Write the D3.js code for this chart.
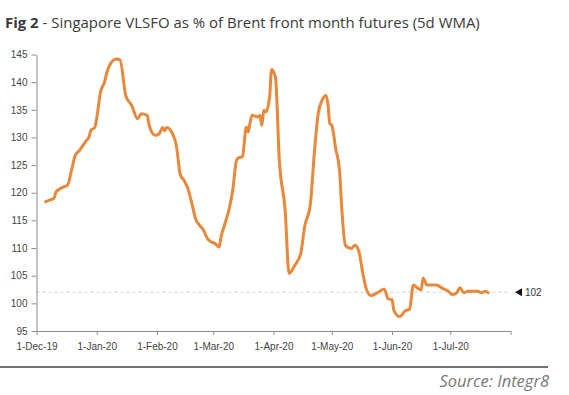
<!DOCTYPE html>
<html><head><meta charset="utf-8">
<script src="https://cdn.jsdelivr.net/npm/d3@7"></script>
<style>body{margin:0;background:#fff}svg{display:block}</style>
</head><body>
<svg id="c" width="569" height="395"></svg>
<script>
const dates = ["2019-12-05","2019-12-08","2019-12-10","2019-12-11","2019-12-14","2019-12-17","2019-12-19","2019-12-21","2019-12-23","2019-12-25","2019-12-27","2019-12-28","2019-12-29","2019-12-31",
"2020-01-01","2020-01-03","2020-01-05","2020-01-06","2020-01-09","2020-01-11","2020-01-13","2020-01-16","2020-01-19","2020-01-22","2020-01-24","2020-01-27","2020-01-28","2020-01-31",
"2020-02-02","2020-02-04","2020-02-05","2020-02-06","2020-02-09","2020-02-11","2020-02-13","2020-02-15","2020-02-17","2020-02-19","2020-02-21","2020-02-23","2020-02-25","2020-02-27","2020-02-29",
"2020-03-02","2020-03-04","2020-03-05","2020-03-07","2020-03-09","2020-03-11","2020-03-13","2020-03-14","2020-03-16","2020-03-18","2020-03-19","2020-03-20","2020-03-21","2020-03-24","2020-03-25","2020-03-26","2020-03-27","2020-03-28","2020-03-30","2020-03-31",
"2020-04-02","2020-04-04","2020-04-07","2020-04-09","2020-04-12","2020-04-15","2020-04-17","2020-04-20","2020-04-22","2020-04-24","2020-04-26","2020-04-28","2020-04-29","2020-04-30",
"2020-05-01","2020-05-03","2020-05-05","2020-05-06","2020-05-08","2020-05-11","2020-05-13","2020-05-15","2020-05-17","2020-05-18","2020-05-21","2020-05-24","2020-05-28","2020-05-30",
"2020-06-01","2020-06-02","2020-06-05","2020-06-08","2020-06-10","2020-06-12","2020-06-14","2020-06-16","2020-06-17","2020-06-19","2020-06-22","2020-06-24","2020-06-27","2020-06-30",
"2020-07-02","2020-07-04","2020-07-06","2020-07-08","2020-07-10","2020-07-12","2020-07-15","2020-07-17","2020-07-19","2020-07-21"];
const values = [118.3,118.7,119.0,120.1,120.9,121.4,124.0,126.8,127.6,128.6,129.6,130.0,131.3,131.8,
133.5,138.3,140.0,141.5,143.8,144.2,144.0,137.5,135.8,133.4,134.3,134.0,132.2,130.4,
130.6,131.8,131.2,131.8,130.7,128.5,123.3,122.2,120.7,118.0,115.2,114.1,113.2,111.7,111.1,
110.8,110.2,112.0,114.4,116.8,120.4,125.9,126.3,126.5,131.9,131.0,132.8,134.0,133.7,134.0,132.2,134.9,134.6,137.3,142.3,
140.9,125.9,116.8,105.4,106.9,109.0,113.8,118.0,127.1,134.3,136.7,137.6,136.1,132.5,
132.2,128.0,124.0,118.0,110.5,109.9,110.5,109.3,105.4,103.6,101.4,101.8,102.6,100.8,
100.7,98.7,97.6,98.7,98.9,103.3,102.8,102.4,104.6,103.3,103.3,103.3,102.7,102.2,
101.6,101.8,102.8,101.9,102.2,102.2,102.2,101.9,102.2,101.8];
const yTicks = [95,100,105,110,115,120,125,130,135,140,145];
const monthTicks = ["2019-12-01","2020-01-01","2020-02-01","2020-03-01","2020-04-01","2020-05-01","2020-06-01","2020-07-01","2020-08-01"];
const refValue = 102;
const titleBold = "Fig 2";
const titleRest = " - Singapore VLSFO as % of Brent front month futures (5d WMA)";
const sourceText = "Source: Integr8";

const parse = d3.timeParse("%Y-%m-%d");
const data = dates.map((d,i)=>({date:parse(d), v:values[i]}));
const mTicks = monthTicks.map(parse);

const svg = d3.select("#c");
const x = d3.scaleTime().domain([mTicks[0], mTicks[mTicks.length-1]]).range([36.5, 510.5]);
const y = d3.scaleLinear().domain([95,145]).range([331, 54.5]);

// title
const title = svg.append("text").attr("x",5).attr("y",28)
  .style("font-family","'Open Sans', sans-serif").style("font-size","16px").attr("fill","#3a3a3a");
title.append("tspan").text(titleBold).style("font-weight","700");
title.append("tspan").text(titleRest);
const tw = title.node().getComputedTextLength();
title.style("font-size", (16*475/tw)+"px");

// reference dashed line
svg.append("line").attr("x1",x.range()[0]).attr("x2",x.range()[1])
  .attr("y1",y(refValue)).attr("y2",y(refValue))
  .attr("stroke","#d0d0d0").attr("stroke-width",1).attr("stroke-dasharray","3,3");

// axes
const fmt = d3.timeFormat("%-d-%b-%y");
const xAxis = d3.axisBottom(x).tickValues(mTicks).tickSize(4).tickSizeOuter(0)
  .tickFormat((d,i)=> i < mTicks.length-1 ? fmt(d) : "");
const gx = svg.append("g").attr("transform",`translate(0,${y(95)})`).call(xAxis);
const yAxis = d3.axisLeft(y).tickValues(yTicks).tickSize(5).tickSizeOuter(0).tickPadding(4);
const gy = svg.append("g").attr("transform",`translate(${x.range()[0]},0)`).call(yAxis);
[gx,gy].forEach(g=>{
  g.selectAll("path,line").attr("stroke","#8c8c8c");
  g.selectAll("text").attr("fill","#444").style("font-family","'Liberation Sans', Arial, sans-serif").style("font-size","10px");
});
gx.selectAll("text").attr("dy","1.2em");

// line
const line = d3.line().x(d=>x(d.date)).y(d=>y(d.v)).curve(d3.curveMonotoneX);
svg.append("path").datum(data).attr("d",line).attr("fill","none")
  .attr("stroke","#E8883A").attr("stroke-width",3).attr("stroke-linejoin","round");

// marker
const my = y(refValue);
svg.append("path").attr("d",`M515,${my} L522,${my-4} L522,${my+4} Z`).attr("fill","#111");
svg.append("text").attr("x",525).attr("y",my+3.5).text(refValue)
  .attr("fill","#333").style("font-family","'Liberation Sans', Arial, sans-serif").style("font-size","10px");

// bottom rule and source
svg.append("line").attr("x1",0).attr("x2",548).attr("y1",367).attr("y2",367).attr("stroke","#444").attr("stroke-width",1.5);
svg.append("text").attr("x",549).attr("y",387).attr("text-anchor","end").text(sourceText)
  .attr("fill","#777").style("font-family","'Open Sans', sans-serif").style("font-style","italic").style("font-size","16.5px");
</script>
</body></html>
